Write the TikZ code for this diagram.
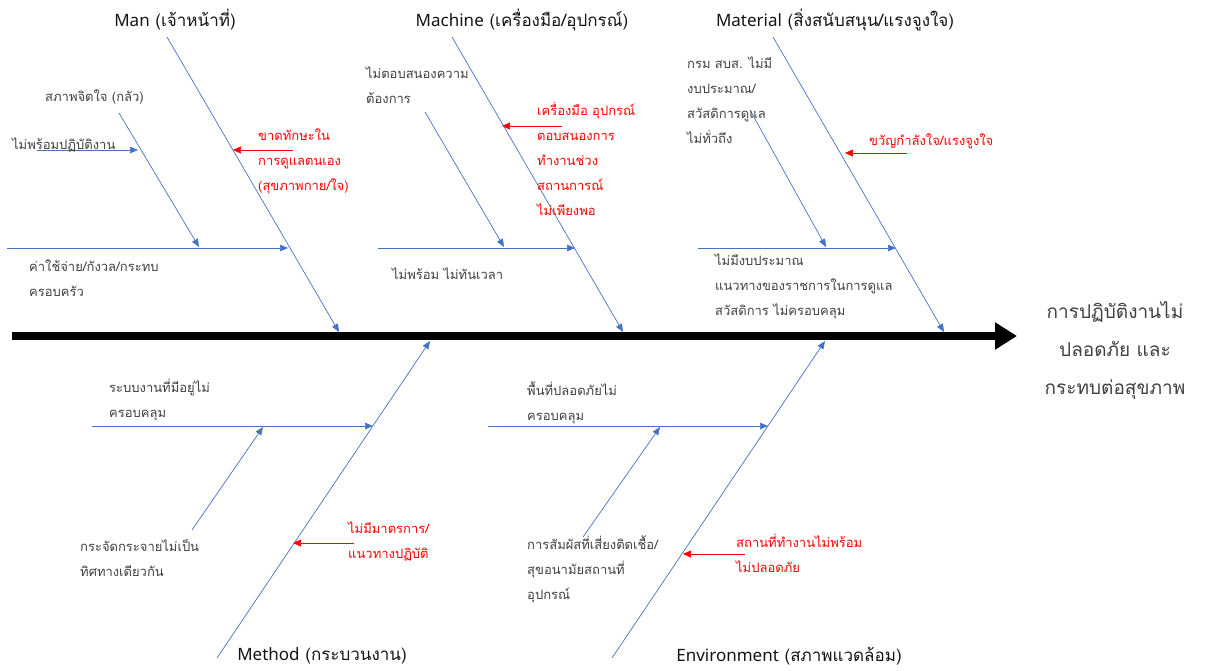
\documentclass[tikz,border=0pt]{standalone}
\usepackage{fontspec}
\setmainfont[Script=Thai]{Loma}
\newfontfamily\latinfont{Noto Sans}
\usetikzlibrary{arrows.meta}
\definecolor{boneblue}{RGB}{68,114,196}
\definecolor{labelgray}{RGB}{64,64,64}
\definecolor{titlegray}{RGB}{20,20,20}
\begin{document}
\begin{tikzpicture}[x=1pt,y=-1pt,
  bone/.style={draw=boneblue, line width=0.7pt, -{Triangle[length=8pt,width=6.5pt]}},
  cause/.style={draw=red, line width=0.7pt, -{Triangle[length=8pt,width=7pt]}},
  spine/.style={draw=black, line width=8pt, -{Triangle[length=22pt,width=26pt]}},
  lbl/.style={anchor=north west, inner sep=0pt, align=left, text=labelgray,
    font=\fontsize{13}{25}\selectfont, execute at begin node=\strut, yshift=-6pt},
  redlbl/.style={lbl, text=red},
  title/.style={inner sep=0pt, text=titlegray, font=\fontsize{17}{20}\selectfont},
  effect/.style={inner sep=0pt, align=center, text=labelgray, font=\fontsize{19}{38}\selectfont},
]
\useasboundingbox (0,0) rectangle (1205,670);

% main spine and effect
\coordinate (tail) at (12,336);
\coordinate (head) at (1017,336);
\draw[spine] (tail) -- (head);
\node[effect] (result) at (1115,350) {การปฏิบัติงานไม่\\ปลอดภัย และ\\กระทบต่อสุขภาพ};

% ---------- Man ----------
\node[title] (man) at (175,20) {{\latinfont Man} (เจ้าหน้าที่)};
\coordinate (manA) at (167,37);  \coordinate (manB) at (339,332);
\draw[bone] (manA) -- (manB);
\coordinate (manHA) at (7,248);  \coordinate (manHB) at (288,248);
\draw[bone] (manHA) -- (manHB);
\coordinate (manSA) at (119,113); \coordinate (manSB) at (199,247);
\draw[bone] (manSA) -- (manSB);
\coordinate (manTA) at (37,150);  \coordinate (manTB) at (138,150);
\draw[bone] (manTA) -- (manTB);
\coordinate (manRA) at (293,150); \coordinate (manRB) at (233,150);
\draw[cause] (manRA) -- (manRB);
\node[lbl] (manFear) at (45,78) {สภาพจิตใจ (กลัว)};
\node[lbl] (manReady) at (12,126) {ไม่พร้อมปฏิบัติงาน};
\node[lbl] (manCost) at (29,254) {ค่าใช้จ่าย/กังวล/กระทบ\\ครอบครัว};
\node[redlbl] (manSkill) at (258,123) {ขาดทักษะใน\\การดูแลตนเอง\\(สุขภาพกาย/ใจ)};

% ---------- Machine ----------
\node[title] (machine) at (522,20) {{\latinfont Machine} (เครื่องมือ/อุปกรณ์)};
\coordinate (macA) at (452,37);  \coordinate (macB) at (623,332);
\draw[bone] (macA) -- (macB);
\coordinate (macHA) at (378,248); \coordinate (macHB) at (575,248);
\draw[bone] (macHA) -- (macHB);
\coordinate (macSA) at (425,112); \coordinate (macSB) at (504,247);
\draw[bone] (macSA) -- (macSB);
\coordinate (macRA) at (562,126); \coordinate (macRB) at (502,126);
\draw[cause] (macRA) -- (macRB);
\node[lbl] (macNeed) at (366,61) {ไม่ตอบสนองความ\\ต้องการ};
\node[redlbl] (macTools) at (537,96) {เครื่องมือ อุปกรณ์\\ตอบสนองการ\\ทำงานช่วง\\สถานการณ์\\ไม่เพียงพอ};
\node[lbl] (macLate) at (392,256) {ไม่พร้อม ไม่ทันเวลา};

% ---------- Material ----------
\node[title] (material) at (835,20) {{\latinfont Material} (สิ่งสนับสนุน/แรงจูงใจ)};
\coordinate (matA) at (773,37);  \coordinate (matB) at (944,332);
\draw[bone] (matA) -- (matB);
\coordinate (matHA) at (698,248); \coordinate (matHB) at (896,248);
\draw[bone] (matHA) -- (matHB);
\coordinate (matSA) at (750,110); \coordinate (matSB) at (826,247);
\draw[bone] (matSA) -- (matSB);
\coordinate (matRA) at (907,153); \coordinate (matRB) at (845,153);
\draw[cause] (matRA) -- (matRB);
\node[lbl] (matDept) at (687,51) {กรม สบส. ไม่มี\\งบประมาณ/\\สวัสดิการดูแล\\ไม่ทั่วถึง};
\node[redlbl] (matMorale) at (869,122) {ขวัญกำลังใจ/แรงจูงใจ};
\node[lbl] (matBudget) at (715,248) {ไม่มีงบประมาณ\\แนวทางของราชการในการดูแล\\สวัสดิการ ไม่ครอบคลุม};

% ---------- Method ----------
\node[title] (method) at (322,656) {{\latinfont Method} (กระบวนงาน)};
\coordinate (metA) at (217,658); \coordinate (metB) at (430,341);
\draw[bone] (metA) -- (metB);
\coordinate (metHA) at (92,426); \coordinate (metHB) at (373,426);
\draw[bone] (metHA) -- (metHB);
\coordinate (metSA) at (192,530); \coordinate (metSB) at (263,427);
\draw[bone] (metSA) -- (metSB);
\coordinate (metRA) at (354,543); \coordinate (metRB) at (293,543);
\draw[cause] (metRA) -- (metRB);
\node[lbl] (metSys) at (109,373) {ระบบงานที่มีอยู่ไม่\\ครอบคลุม};
\node[lbl] (metScatter) at (80,533) {กระจัดกระจายไม่เป็น\\ทิศทางเดียวกัน};
\node[redlbl] (metNone) at (348,516) {ไม่มีมาตรการ/\\แนวทางปฏิบัติ};

% ---------- Environment ----------
\node[title] (environment) at (789,656) {{\latinfont Environment} (สภาพแวดล้อม)};
\coordinate (envA) at (612,658); \coordinate (envB) at (825,341);
\draw[bone] (envA) -- (envB);
\coordinate (envHA) at (488,426); \coordinate (envHB) at (768,426);
\draw[bone] (envHA) -- (envHB);
\coordinate (envSA) at (583,537); \coordinate (envSB) at (660,427);
\draw[bone] (envSA) -- (envSB);
\coordinate (envRA) at (745,554); \coordinate (envRB) at (683,554);
\draw[cause] (envRA) -- (envRB);
\node[lbl] (envArea) at (527,376) {พื้นที่ปลอดภัยไม่\\ครอบคลุม};
\node[lbl] (envContact) at (527,530) {การสัมผัสที่เสี่ยงติดเชื้อ/\\สุขอนามัยสถานที่\\อุปกรณ์};
\node[redlbl] (envPlace) at (736,528) {สถานที่ทำงานไม่พร้อม\\ไม่ปลอดภัย};
\end{tikzpicture}
\end{document}
